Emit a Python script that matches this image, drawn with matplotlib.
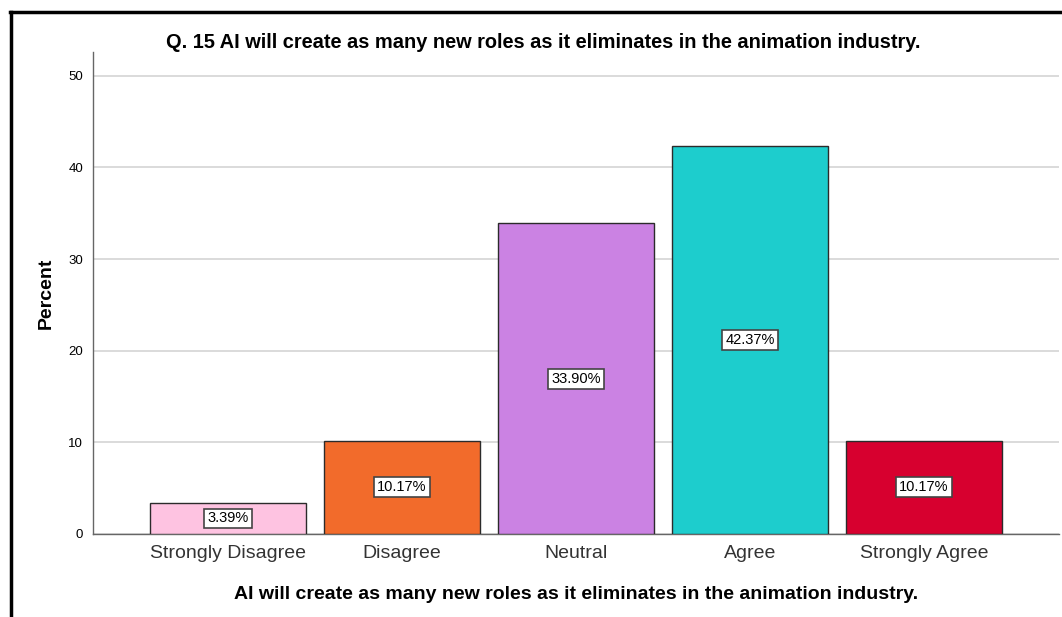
import matplotlib
matplotlib.use("Agg")
import matplotlib.pyplot as plt
from matplotlib.lines import Line2D

plt.rcParams['font.family'] = ['Liberation Sans', 'DejaVu Sans']

categories = ["Strongly Disagree", "Disagree", "Neutral", "Agree", "Strongly Agree"]
percents = [3.39, 10.17, 33.90, 42.37, 10.17]
colors = ["#FEC3E1", "#F26B2B", "#CB82E3", "#1DCDCD", "#D7002F"]
yticks = [0, 10, 20, 30, 40, 50]

title = "Q. 15 AI will create as many new roles as it eliminates in the animation industry."
xlabel = "AI will create as many new roles as it eliminates in the animation industry."

fig = plt.figure(figsize=(10.62, 6.17), dpi=100)
ax = fig.add_axes([93 / 1062, 1 - 534 / 617, (1059 - 93) / 1062, (534 - 52) / 617])

x = list(range(len(categories)))
bars = ax.bar(x, percents, width=0.9, color=colors, edgecolor="#2b2b2b", linewidth=1.0, zorder=3)

for xi, v in zip(x, percents):
    ax.text(xi, v / 2, f"{v:.2f}%", ha="center", va="center", fontsize=10.5, color="black", zorder=4,
            bbox=dict(boxstyle="square,pad=0.2", facecolor="white", edgecolor="#444444", linewidth=1.2))

ax.set_xlim(-0.776, 4.776)
ax.set_ylim(0, 52.6)
ax.set_yticks(yticks)
ax.set_yticklabels([str(t) for t in yticks], fontsize=9.5)
ax.set_xticks(x)
ax.set_xticklabels(categories, fontsize=14, color="#333333")
ax.tick_params(axis="both", length=0)
ax.tick_params(axis="y", pad=7)
ax.tick_params(axis="x", pad=8)

ax.yaxis.grid(True, color="#d4d4d4", linewidth=1.2, zorder=0)
ax.set_axisbelow(True)
for side in ["top", "right"]:
    ax.spines[side].set_visible(False)
for side in ["left", "bottom"]:
    ax.spines[side].set_color("#666666")
    ax.spines[side].set_linewidth(1.0)

ax.set_ylabel("Percent", fontsize=14, fontweight="bold", labelpad=10)
ax.set_xlabel(xlabel, fontsize=14, fontweight="bold", labelpad=17)
fig.text(543 / 1062, 1 - 42 / 617, title, ha="center", va="center", fontsize=14.4, fontweight="bold")

# outer frame edges
fig.add_artist(Line2D([10 / 1062, 1.0], [1 - 11.5 / 617, 1 - 11.5 / 617], color="black", linewidth=2.5))
fig.add_artist(Line2D([10.5 / 1062, 10.5 / 1062], [0.0, 1 - 11.5 / 617], color="black", linewidth=2.5))

fig.savefig("out.png", dpi=100, facecolor="white")
